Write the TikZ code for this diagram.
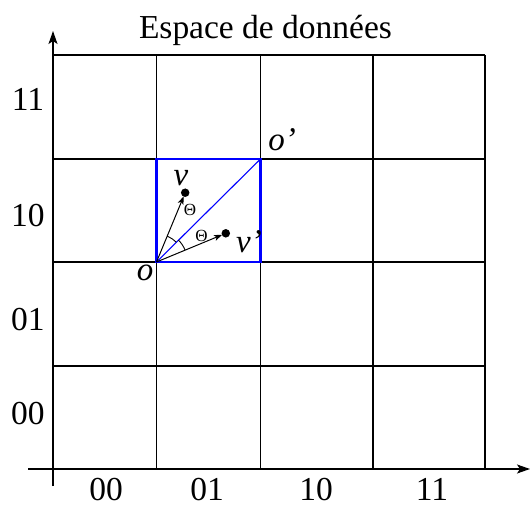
\documentclass[tikz,border=0pt]{standalone}
\usepackage{fontspec}
\setmainfont{Liberation Serif}
\usetikzlibrary{arrows.meta,calc}
\begin{document}
\begin{tikzpicture}[x=1pt,y=-1pt,
  gridline/.style={line width=1.2pt,black},
  axisline/.style={line width=1.2pt,black,-{Stealth[length=13pt,width=9pt,inset=3pt]}},
  lbl/.style={anchor=base,inner sep=0pt,text depth=0pt,font=\fontsize{33.5}{33.5}\selectfont},
  ilbl/.style={anchor=base,inner sep=0pt,font=\fontsize{33}{33}\selectfont\itshape},
  thlbl/.style={anchor=base,inner sep=0pt,font=\fontsize{17}{17}\selectfont},
  vec/.style={line width=1pt,black,-{Stealth[length=8pt,width=6pt,inset=2pt]},shorten >=4pt},
  dot/.style={circle,fill=black,inner sep=0pt,minimum size=8.5pt},
  bluebox/.style={line width=2.6pt,blue},
  bluediag/.style={line width=1.1pt,blue}]
\useasboundingbox (0,0) rectangle (531,506);
% grid
\foreach \x in {156.5,260.5,373,485} \draw[gridline] (\x,55) -- (\x,469);
\foreach \y in {55,159,262,366} \draw[gridline] (53,\y) -- (485,\y);
% axes
\coordinate (ybot) at (53,486);
\coordinate (ytop) at (53,31);
\coordinate (xleft) at (28,469);
\coordinate (xright) at (530,469);
\draw[axisline] (ybot) -- (ytop);
\draw[axisline] (xleft) -- (xright);
% blue cell
\coordinate (o) at (156.5,262);
\coordinate (op) at (260.5,159);
\draw[bluebox] (o) rectangle (op);
\draw[bluediag] (o) -- (op);
% vectors
\node[dot] (v) at ($(o)+(-67.5:75)$) {};
\node[dot] (vp) at ($(o)+(-22.5:75)$) {};
\draw[vec] (o) -- (v.center);
\draw[vec] (o) -- (vp.center);
\draw[line width=0.9pt] ($(o)+(-67.5:28)$) arc[start angle=-67.5,end angle=-45,radius=28];
\draw[line width=0.9pt] ($(o)+(-45:31)$) arc[start angle=-45,end angle=-22.5,radius=31];
% labels
\node[lbl] (title) at (265.5,38) {Espace de données};
\node[lbl] (l11) at (28,110) {11};
\node[lbl] (l10) at (28,226) {10};
\node[lbl] (l01) at (28,330) {01};
\node[lbl] (l00) at (28,424) {00};
\node[lbl] (b00) at (106,500) {00};
\node[lbl] (b01) at (207,500) {01};
\node[lbl] (b10) at (316,500) {10};
\node[lbl] (b11) at (432,500) {11};
\node[ilbl] (lo) at (145,280) {o};
\node[ilbl] (lop) at (282,150) {o’};
\node[ilbl] (lv) at (181,185) {v};
\node[ilbl] (lvp) at (249,252) {v’};
\node[thlbl] (th1) at (190,215) {Θ};
\node[thlbl] (th2) at (201.5,241) {Θ};
\end{tikzpicture}
\end{document}
